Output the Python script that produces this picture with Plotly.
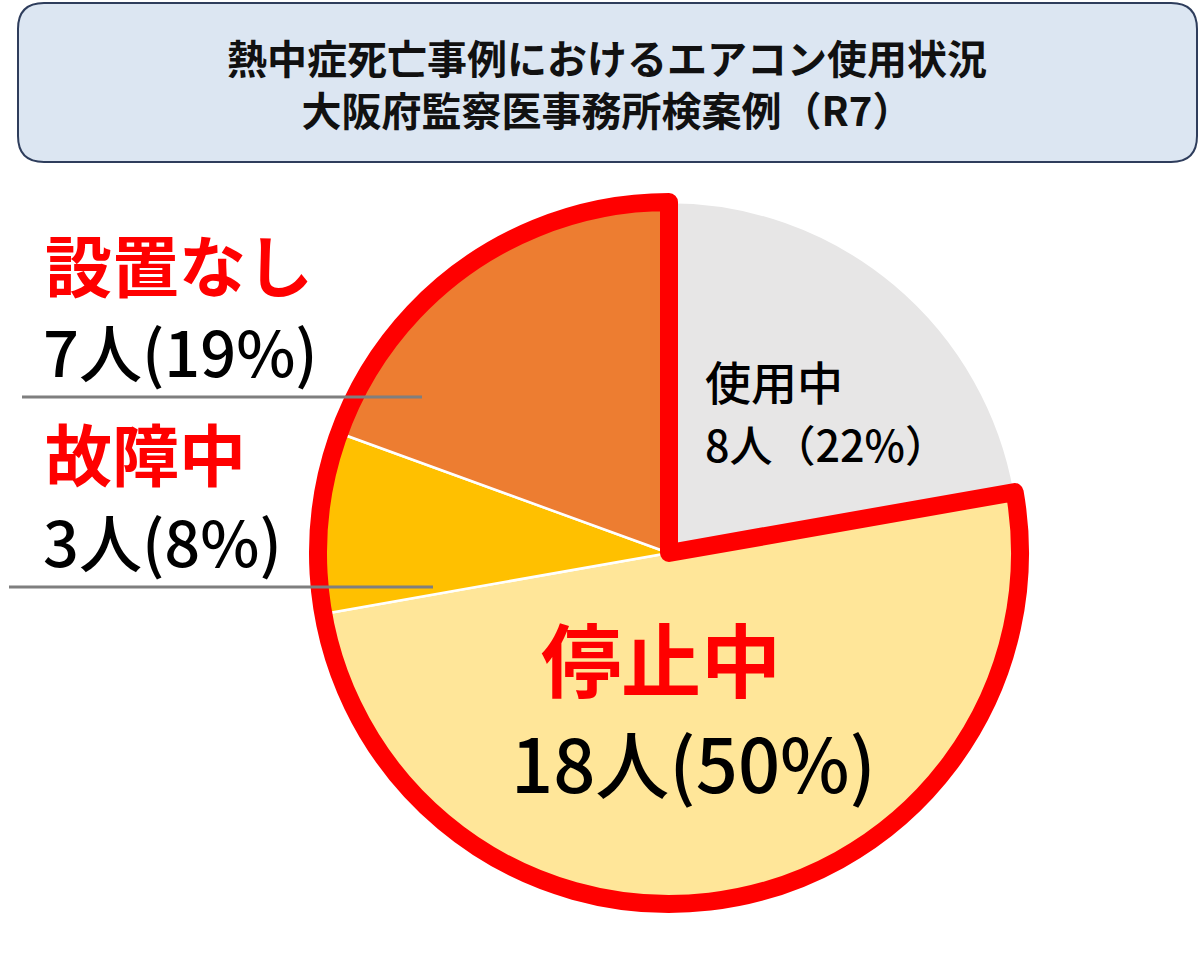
import plotly.graph_objects as go

# ---- data ----
categories = ["使用中", "停止中", "故障中", "設置なし"]
counts = [8, 18, 3, 7]
pct_labels = ["22%", "50%", "8%", "19%"]
slice_colors = ["#E7E6E6", "#FFE699", "#FFC000", "#ED7D31"]
# group outlined in red: everything except 使用中
outline_groups = ["使用中", "未使用"]
outline_values = [counts[0], sum(counts[1:])]

title_lines = ["熱中症死亡事例におけるエアコン使用状況", "大阪府監察医事務所検案例（R7）"]

W, H = 1200, 953
def fx(p):
    return p / W
def fy(p):
    return 1 - p / H

# pie geometry (pixels)
cx, cy, R = 669, 553, 351
dom_x = [fx(cx - R), fx(cx + R)]
dom_y = [fy(cy + R), fy(cy - R)]

fig = go.Figure()
fig.add_trace(go.Pie(
    labels=categories, values=counts, sort=False, direction="clockwise",
    rotation=0, textinfo="none", hoverinfo="label+value+percent",
    marker=dict(colors=slice_colors, line=dict(color="white", width=2.5)),
    domain=dict(x=dom_x, y=dom_y), showlegend=False,
))
fig.add_trace(go.Pie(
    labels=outline_groups, values=outline_values, sort=False, direction="clockwise",
    rotation=0, textinfo="none", hoverinfo="skip",
    marker=dict(colors=["rgba(0,0,0,0)", "rgba(0,0,0,0)"],
                line=dict(color=["rgba(0,0,0,0)", "#FF0000"], width=[0, 18])),
    domain=dict(x=dom_x, y=dom_y), showlegend=False,
))

shapes = []
# title box with rounded corners
x0, y0, x1, y1, r = 18, 3, 1197, 162, 26
path = (f"M {fx(x0+r)},{fy(y0)} L {fx(x1-r)},{fy(y0)} Q {fx(x1)},{fy(y0)} {fx(x1)},{fy(y0+r)} "
        f"L {fx(x1)},{fy(y1-r)} Q {fx(x1)},{fy(y1)} {fx(x1-r)},{fy(y1)} "
        f"L {fx(x0+r)},{fy(y1)} Q {fx(x0)},{fy(y1)} {fx(x0)},{fy(y1-r)} "
        f"L {fx(x0)},{fy(y0+r)} Q {fx(x0)},{fy(y0)} {fx(x0+r)},{fy(y0)} Z")
shapes.append(dict(type="path", xref="paper", yref="paper", path=path,
                   fillcolor="#DCE6F2", line=dict(color="#2E3D5C", width=2), layer="below"))
# label separator lines
for (lx0, lx1, ly) in [(22, 422, 397), (9, 433, 587)]:
    shapes.append(dict(type="line", xref="paper", yref="paper",
                       x0=fx(lx0), x1=fx(lx1), y0=fy(ly), y1=fy(ly),
                       line=dict(color="#7F7F7F", width=3), layer="above"))

FONT = "Noto Sans CJK JP"
ann = []
ann.append(dict(text="<b>" + "<br>".join(title_lines) + "</b>", x=fx(607), y=fy(83),
                xref="paper", yref="paper", xanchor="center", yanchor="middle",
                showarrow=False, align="center",
                font=dict(family=FONT, size=40, color="#111111")))

def add_label(text, x, y, size, color, bold):
    t = f"<b>{text}</b>" if bold else text
    ann.append(dict(text=t, x=fx(x), y=fy(y), xref="paper", yref="paper",
                    xanchor="left", yanchor="middle", showarrow=False,
                    font=dict(family=FONT, size=size, color=color, weight=500 if not bold else 700)))

RED = "#FF0000"
BLK = "#000000"
# 使用中
add_label(categories[0], 703, 380, 46, BLK, False)
add_label(f"{counts[0]}人（{pct_labels[0]}）", 703, 443, 43, BLK, False)
# 停止中
add_label(categories[1], 539, 656, 80, RED, True)
add_label(f"{counts[1]}人({pct_labels[1]})", 509, 760, 74, BLK, False)
# 故障中
add_label(categories[2], 43, 452, 67, RED, True)
add_label(f"{counts[2]}人({pct_labels[2]})", 41, 539, 63, BLK, False)
# 設置なし
add_label(categories[3], 43, 262, 67, RED, True)
add_label(f"{counts[3]}人({pct_labels[3]})", 41, 349, 63, BLK, False)

fig.update_layout(
    width=W, height=H, margin=dict(l=0, r=0, t=0, b=0),
    paper_bgcolor="white", plot_bgcolor="white",
    shapes=shapes, annotations=ann, showlegend=False,
)
fig.write_html("out.html")
